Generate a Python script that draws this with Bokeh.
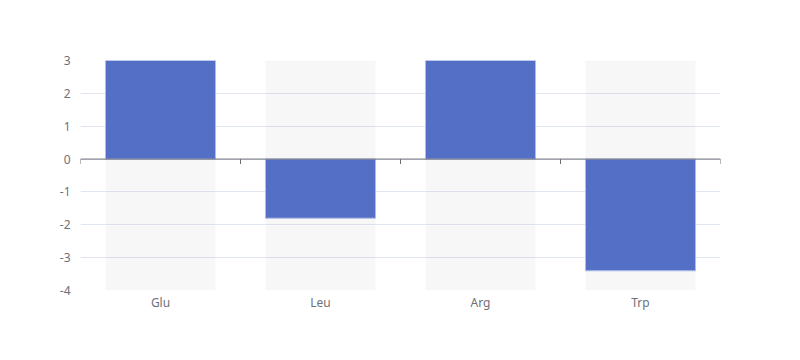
from bokeh.plotting import figure
from bokeh.models import Range1d, FixedTicker, Span, ColumnDataSource
from bokeh.embed import file_html
from bokeh.resources import INLINE

categories = ["Glu", "Leu", "Arg", "Trp"]
values = [3, -1.8, 3, -3.4]
y_min, y_max = -4, 3
y_ticks = [-4, -3, -2, -1, 0, 1, 2, 3]

FONT = "Noto Sans"
TEXT = "#6e7079"
n = len(categories)
xs = [i + 0.5 for i in range(n)]
bar_w = 0.6875

p = figure(width=792, height=352, output_backend="svg", toolbar_location=None,
           x_range=Range1d(0, n), y_range=Range1d(y_min, y_max),
           min_border_left=80, min_border_right=72, min_border_top=60, min_border_bottom=62)
p.outline_line_color = None
p.background_fill_color = "white"
p.border_fill_color = "white"

src = ColumnDataSource(dict(x=xs, top=values, bg_top=[y_max] * n, bg_bot=[y_min] * n))
p.vbar(x="x", top="bg_top", bottom="bg_bot", width=bar_w, source=src,
       fill_color="#b4b4b4", fill_alpha=0.1, line_color=None)
p.vbar(x="x", top="top", bottom=0, width=bar_w, source=src,
       fill_color="#5470c6", line_color="#aebce6", line_width=1)

# axis line at zero
p.add_layout(Span(location=0, dimension="width", line_color=TEXT, line_width=1))
bx = list(range(n + 1))
p.segment(x0=bx, x1=bx, y0=[0] * (n + 1), y1=[-0.15] * (n + 1), line_color=TEXT, line_width=1)

# x axis labels only
xa = p.xaxis[0]
xa.ticker = FixedTicker(ticks=xs)
xa.major_label_overrides = {x: c for x, c in zip(xs, categories)}
xa.axis_line_color = None
xa.major_tick_line_color = None
xa.major_tick_out = 0
xa.minor_tick_line_color = None
xa.major_label_text_color = TEXT
xa.major_label_text_font = FONT
xa.major_label_text_font_size = "12px"
xa.major_label_standoff = 3

ya = p.yaxis[0]
ya.ticker = FixedTicker(ticks=y_ticks)
ya.major_label_overrides = {t: str(t) for t in y_ticks}
ya.axis_line_color = None
ya.major_tick_line_color = None
ya.major_tick_out = 0
ya.minor_tick_line_color = None
ya.major_label_text_color = TEXT
ya.major_label_text_font = FONT
ya.major_label_text_font_size = "12px"
ya.major_label_standoff = 10

p.xgrid.grid_line_color = None
p.ygrid.grid_line_color = "#e0e6f1"
p.ygrid.ticker = FixedTicker(ticks=y_ticks)

open("out.html", "w").write(file_html(p, INLINE))
